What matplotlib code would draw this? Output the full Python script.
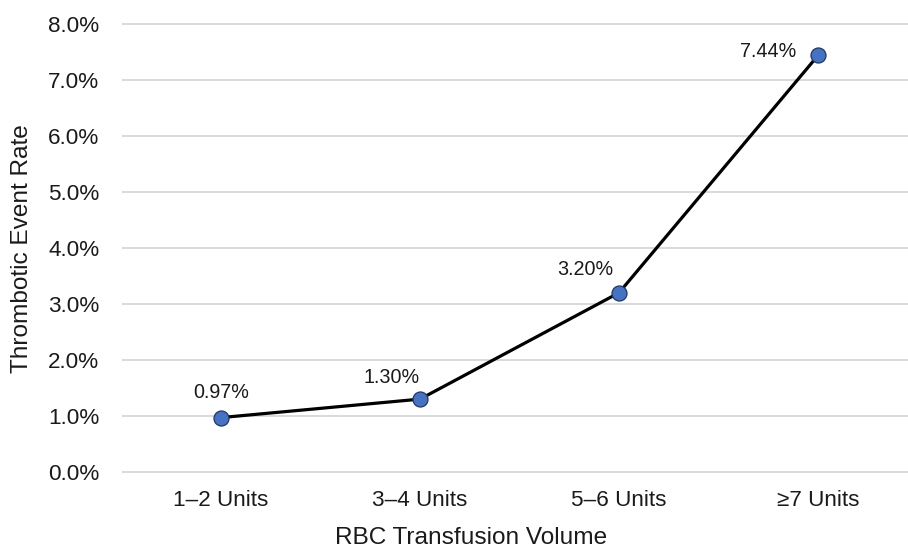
import matplotlib
matplotlib.use("Agg")
import matplotlib.pyplot as plt
from matplotlib.ticker import FuncFormatter

plt.rcParams['font.family'] = ['Liberation Sans', 'DejaVu Sans']

categories = ["1\u20132 Units", "3\u20134 Units", "5\u20136 Units", "\u22657 Units"]
event_rate = [0.97, 1.30, 3.20, 7.44]
label_offsets_px = [(0, 25), (-28, 22), (-34, 23), (-50, 4)]
y_ticks = [0, 1, 2, 3, 4, 5, 6, 7, 8]

fig = plt.figure(figsize=(9.08, 5.47), dpi=100)
W, H = 908, 547
left, right, bottom, top = 121.5, 908, 74, 524
ax = fig.add_axes([left / W, bottom / H, (right - left) / W, (top - bottom) / H])

x = list(range(len(categories)))
ax.plot(x, event_rate, color='black', lw=2.3, zorder=3,
        marker='o', markersize=10.8, markerfacecolor='#4472C4',
        markeredgecolor='#1F3864', markeredgewidth=0.9)

for xi, v, (dx, dy) in zip(x, event_rate, label_offsets_px):
    ax.annotate(f"{v:.2f}%", (xi, v), xytext=(dx, dy), textcoords='offset pixels',
                ha='center', va='center', fontsize=14.2, color='#1a1a1a')

ax.set_xlim(-0.5, (right - 221) / 199)
ax.set_ylim(-0.02, 8.02)
ax.set_yticks(y_ticks)
ax.yaxis.set_major_formatter(FuncFormatter(lambda v, p: f"{v:.1f}%"))
ax.set_xticks(x)
ax.set_xticklabels(categories)

ax.grid(axis='y', color='#d9d9d9', lw=1.4, zorder=0)
ax.set_axisbelow(True)
for s in ax.spines.values():
    s.set_visible(False)
ax.tick_params(axis='both', length=0, labelsize=16.2, colors='#1a1a1a')
ax.tick_params(axis='y', pad=16)
ax.tick_params(axis='x', pad=12)

ax.set_xlabel("RBC Transfusion Volume", fontsize=17.6, color='#1a1a1a')
ax.xaxis.set_label_coords((471 - left) / (right - left), -0.144)
ax.xaxis.label.set_va('center')
ax.set_ylabel("Thrombotic Event Rate", fontsize=17.6, color='#1a1a1a')
ax.yaxis.set_label_coords((22 - left) / (right - left), 0.498)
ax.yaxis.label.set_va('center')

fig.savefig("out.png", dpi=100)
